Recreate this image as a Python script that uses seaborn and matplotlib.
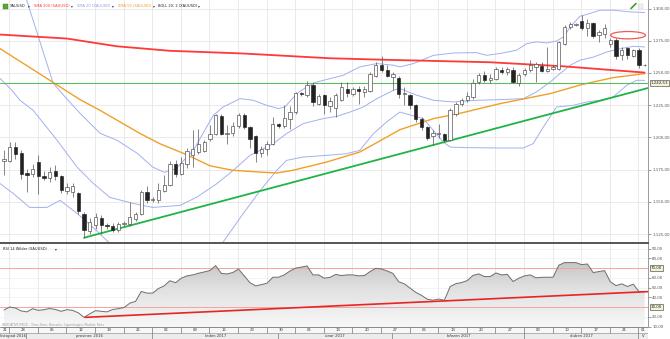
import numpy as np
import pandas as pd
import matplotlib
matplotlib.use("Agg")
import matplotlib.pyplot as plt
import seaborn as sns
from matplotlib.patches import Ellipse, Rectangle
from matplotlib.lines import Line2D
from matplotlib.colors import LinearSegmentedColormap
from matplotlib.transforms import blended_transform_factory
from matplotlib.ticker import FuncFormatter

sns.set_style("white")
plt.rcParams['font.family'] = ['DejaVu Sans']

# ---------------- data ----------------
dates = pd.bdate_range("2016-11-24", "2017-05-01")

opens = [1182.0, 1181.8, 1192.5, 1188.0, 1172.4, 1171.9, 1180.9, 1169.8, 1168.8, 1173.9,
         1169.8, 1158.4, 1157.6, 1156.8, 1140.3, 1127.2, 1132.4, 1137.6, 1132.4, 1131.0,
         1128.4, 1132.8, 1132.5, 1137.0, 1140.8, 1157.6, 1151.5, 1151.2, 1158.4, 1162.8,
         1179.7, 1171.4, 1179.7, 1186.1, 1188.7, 1189.4, 1199.1, 1203.0, 1216.4, 1203.0,
         1203.4, 1208.6, 1217.7, 1208.1, 1200.9, 1187.9, 1191.3, 1194.6, 1210.2, 1208.6,
         1214.6, 1219.7, 1234.5, 1232.7, 1240.5, 1226.2, 1232.7, 1224.1, 1223.1, 1229.3,
         1237.9, 1234.0, 1237.3, 1235.3, 1236.0, 1247.4, 1256.0, 1252.1, 1246.9, 1246.4,
         1233.5, 1232.7, 1224.9, 1214.0, 1208.0, 1200.9, 1202.4, 1202.4, 1198.3, 1218.0,
         1225.7, 1228.8, 1231.4, 1243.0, 1248.2, 1244.5, 1245.7, 1252.6, 1250.8, 1252.6,
         1242.2, 1249.0, 1252.6, 1254.7, 1255.2, 1251.6, 1253.4, 1253.4, 1272.8, 1285.7,
         1287.2, 1290.4, 1284.5, 1288.8, 1279.3, 1280.6, 1272.3, 1275.9, 1263.7, 1269.0,
         1263.0, 1268.2, 1256.0]
highs = [1190.6, 1196.4, 1196.4, 1190.3, 1175.7, 1179.6, 1186.1, 1174.1, 1177.0, 1178.4,
         1170.6, 1164.6, 1164.6, 1157.5, 1141.8, 1137.8, 1141.3, 1139.6, 1134.0, 1133.5,
         1134.5, 1135.0, 1149.9, 1142.5, 1159.5, 1162.5, 1153.5, 1165.0, 1170.5, 1181.5,
         1182.2, 1184.5, 1191.5, 1205.5, 1206.8, 1198.0, 1210.0, 1218.5, 1218.0, 1209.3,
         1212.0, 1218.8, 1218.8, 1209.0, 1202.0, 1193.5, 1197.5, 1216.0, 1211.5, 1224.9,
         1224.0, 1235.5, 1235.5, 1243.6, 1243.0, 1233.5, 1234.0, 1231.4, 1234.5, 1243.0,
         1243.0, 1239.5, 1240.0, 1240.0, 1250.5, 1258.5, 1263.0, 1256.5, 1251.0, 1247.5,
         1239.0, 1234.0, 1226.0, 1216.0, 1209.0, 1206.0, 1210.2, 1203.5, 1222.5, 1227.5,
         1230.5, 1235.0, 1245.0, 1250.0, 1251.5, 1249.0, 1255.0, 1255.0, 1255.0, 1255.0,
         1250.0, 1254.0, 1260.4, 1258.5, 1258.5, 1270.2, 1256.0, 1275.0, 1287.5, 1289.5,
         1289.0, 1294.8, 1291.5, 1289.5, 1283.5, 1287.8, 1277.5, 1277.0, 1270.5, 1270.0,
         1268.5, 1269.5, 1256.8]
lows = [1170.8, 1180.9, 1183.5, 1168.0, 1158.0, 1169.1, 1156.4, 1166.7, 1165.1, 1167.0,
        1157.1, 1156.1, 1154.0, 1140.6, 1122.2, 1125.3, 1128.6, 1125.3, 1129.0, 1126.5,
        1127.0, 1131.5, 1131.5, 1135.5, 1140.0, 1149.5, 1150.0, 1149.5, 1157.5, 1162.0,
        1169.3, 1170.6, 1176.0, 1177.0, 1187.0, 1188.5, 1197.5, 1202.0, 1202.0, 1195.0,
        1201.0, 1207.5, 1206.5, 1191.5, 1180.9, 1184.5, 1186.0, 1194.0, 1207.0, 1207.5,
        1206.8, 1218.0, 1232.5, 1231.0, 1224.6, 1225.0, 1218.5, 1219.7, 1215.8, 1228.0,
        1231.0, 1232.5, 1226.2, 1231.5, 1235.0, 1246.5, 1251.0, 1246.5, 1236.6, 1230.9,
        1225.0, 1222.4, 1212.0, 1206.0, 1198.3, 1193.9, 1199.5, 1196.5, 1197.5, 1217.0,
        1224.0, 1227.5, 1229.5, 1241.5, 1243.0, 1242.5, 1244.5, 1249.5, 1248.5, 1242.0,
        1239.7, 1247.5, 1251.0, 1243.0, 1250.5, 1250.5, 1252.0, 1252.5, 1271.5, 1284.0,
        1286.5, 1283.5, 1278.5, 1277.5, 1274.1, 1277.5, 1270.0, 1261.2, 1259.9, 1260.5,
        1262.0, 1254.2, 1255.5]
closes = [1183.5, 1192.5, 1187.4, 1172.0, 1170.6, 1175.8, 1169.8, 1168.8, 1173.1, 1169.8,
          1158.9, 1161.5, 1162.0, 1142.9, 1127.9, 1134.2, 1138.4, 1132.4, 1131.1, 1127.9,
          1133.0, 1133.3, 1138.2, 1140.8, 1157.6, 1151.2, 1152.0, 1159.0, 1162.8, 1179.7,
          1171.4, 1180.1, 1189.4, 1191.3, 1195.2, 1196.4, 1203.0, 1217.2, 1203.0, 1203.8,
          1208.6, 1217.7, 1208.1, 1199.1, 1187.9, 1191.3, 1195.2, 1210.2, 1208.6, 1215.4,
          1219.7, 1234.5, 1233.5, 1240.5, 1227.5, 1231.9, 1224.9, 1228.0, 1232.7, 1239.1,
          1234.5, 1237.3, 1235.8, 1237.9, 1249.0, 1256.0, 1252.1, 1247.4, 1249.5, 1233.5,
          1234.5, 1225.5, 1214.6, 1208.0, 1199.8, 1203.4, 1203.2, 1197.7, 1221.0, 1226.2,
          1228.8, 1232.5, 1242.2, 1248.2, 1244.3, 1246.0, 1253.4, 1250.8, 1253.4, 1243.0,
          1248.2, 1252.6, 1256.0, 1256.8, 1251.6, 1253.4, 1254.7, 1274.1, 1285.7, 1287.8,
          1287.8, 1284.5, 1288.8, 1278.5, 1281.8, 1284.5, 1275.4, 1263.0, 1268.2, 1263.7,
          1267.6, 1256.0, 1256.0]

rsi_values = [27, 30, 29, 26, 25, 28.3, 26.6, 27.3, 28.5, 27.5,
              25.6, 27.3, 26.6, 24, 19.4, 23, 26.3, 25.6, 25, 27.5,
              28.3, 29.5, 34, 35.8, 46, 44.3, 44.3, 49, 51.7, 57,
              55, 59.6, 62, 63, 64.7, 66, 67.5, 72.5, 64.5, 64,
              65.4, 69, 62, 55, 51.7, 53, 54.5, 60.6, 60.6, 63,
              67, 70, 71, 72.2, 63, 63, 59.6, 60.5, 63.5, 62.3,
              63, 63, 62, 62.3, 66.4, 69.8, 69, 67, 64.5, 56,
              53.8, 49.4, 45, 42, 38, 37, 38.2, 37, 51, 54,
              55.1, 57.2, 62.5, 64, 61.3, 61.3, 65, 63, 63.5, 56.2,
              59.6, 62, 63, 60, 60.5, 60.6, 60.6, 73, 75.6, 75.6,
              75.6, 73.5, 74.2, 65.4, 66.4, 67.4, 56, 52, 53.8, 51.1,
              53.5, 46, 46]

# indicator lines (candle index, price)
sma200_x = [-0.7, 11, 19.7, 29, 41.8, 57, 67, 85, 97.7, 112]
sma200_y = [1279.8, 1276.7, 1270.7, 1267.2, 1265.1, 1261.4, 1260.2, 1258.3, 1255.2, 1250.3]

sma50_x = [-0.7, 6, 13.3, 16.8, 23.8, 27.3, 32, 36, 40, 44.8, 47.7, 50.5, 56.4, 62.2,
           65.2, 69.2, 75.1, 80, 86.7, 95.5, 101, 106.5, 112]
sma50_y = [1268.9, 1250.0, 1229.3, 1221.0, 1203.0, 1195.0, 1186.5, 1178.0, 1174.5, 1173.1,
           1172.4, 1174.5, 1180.9, 1188.7, 1196.0, 1206.0, 1214.6, 1219.0, 1226.2, 1234.0,
           1241.0, 1246.4, 1249.5]

sma20_x = [-0.7, 1.4, 2.8, 5.1, 9.3, 12.8, 15.6, 18.5, 22.6, 26, 30.8, 33.7, 37.2, 40.1,
           43, 44.8, 47.1, 49.4, 52.3, 55.8, 58.2, 60.5, 62.8, 65.2, 68.1, 69.2, 72.2,
           75.1, 78.6, 82.6, 86.7, 90.8, 93.1, 95.5, 97.2, 99, 100.7, 103.1, 105.4,
           107.8, 110.1, 112]
sma20_y = [1245.8, 1236.5, 1228.8, 1221.0, 1197.7, 1176.8, 1164.4, 1153.5, 1148.8, 1145.7,
           1147.3, 1153.7, 1164.1, 1174.5, 1186.1, 1190.0, 1195.2, 1203.0, 1210.7, 1214.6,
           1216.4, 1219.7, 1223.6, 1230.1, 1236.6, 1237.9, 1232.7, 1228.8, 1227.5, 1228.8,
           1229.3, 1230.1, 1235.3, 1243.0, 1249.5, 1256.0, 1259.9, 1262.4, 1266.3, 1268.9,
           1270.7, 1270.2]

boll_up_x = [-0.7, 4, 8.6, 11.2, 13.3, 16.8, 19.8, 23.3, 26, 28, 30, 33.1, 36.6, 38.3,
             41.3, 43.6, 45.9, 48, 49.1, 51.2, 52.9, 54.7, 59.3, 62.2, 65.2, 68.1, 69.2,
             71.6, 75.1, 78.6, 82.6, 84.4, 86.7, 89.6, 91.4, 93.1, 94.9, 96.6, 97.8, 99,
             100.7, 102.4, 104.2, 106.5, 109.4, 112]
boll_up_y = [1370.0, 1306.0, 1242.0, 1228.8, 1218.7, 1203.2, 1197.7, 1187.7, 1177.0, 1173.0,
             1175.5, 1190.0, 1217.2, 1223.6, 1230.1, 1228.8, 1224.9, 1222.4, 1223.6, 1234.0,
             1239.1, 1243.0, 1248.2, 1254.7, 1257.3, 1256.0, 1254.7, 1257.3, 1263.7, 1265.5,
             1265.8, 1263.7, 1265.1, 1267.6, 1272.8, 1274.1, 1273.3, 1274.8, 1277.9, 1285.7,
             1294.0, 1296.1, 1298.7, 1298.7, 1297.4, 1296.9]

boll_lo_x = [-0.7, 1.6, 4.5, 7.5, 9.8, 12.8, 15.6, 18.5, 22, 28, 33, 36, 38.3, 41.8, 44.8,
             47.7, 49.4, 52.3, 56.4, 59.9, 62.2, 64.6, 66.9, 69.2, 73.3, 76.8, 78, 80.9,
             86.7, 90.8, 92.5, 94.3, 96.6, 99.5, 101.9, 104.2, 106.5, 108.9, 110.6, 112]
boll_lo_y = [1164.2, 1156.6, 1145.7, 1145.7, 1151.2, 1140.9, 1130.1, 1117.8, 1108.0, 1113.0,
             1115.0, 1110.0, 1118.8, 1140.8, 1158.9, 1174.5, 1182.2, 1184.8, 1186.1, 1187.4,
             1190.0, 1203.0, 1212.0, 1219.7, 1214.6, 1196.4, 1192.5, 1192.1, 1191.8, 1191.8,
             1195.2, 1208.1, 1223.6, 1224.9, 1227.5, 1228.8, 1231.4, 1240.5, 1244.3, 1244.3]

support_level = 1242.53
trend_x = [14, 112.9]
trend_y = [1122.2, 1238.7]
rsi_trend_x = [14.2, 112.9]
rsi_trend_y = [19.4, 45.9]

week_labels = ['21', '28', '05', '12', '19', '26', '02', '09', '16', '23', '30', '06',
               '13', '20', '27', '06', '13', '20', '27', '03', '10', '17', '24', '01']
month_labels = ['listopad 2016', 'prosinec 2016', 'leden 2017', 'únor 2017',
                'březen 2017', 'duben 2017', 'V']

# ---------------- layout ----------------
W, H = 670, 339
fig = plt.figure(figsize=(W / 100, H / 100), dpi=100)
fig.patch.set_facecolor('white')

XMIN, XMAX = -0.7, 112.59
PMIN, PMAX = 1118.5, 1306.6
RMIN, RMAX = 9.5, 94.7
RIGHT = 648 / W
SEP = 1.08

ax = fig.add_axes([0, 1 - 242.5 / H, RIGHT, 242.5 / H])
axr = fig.add_axes([0, 1 - 327 / H, RIGHT, (327 - 244) / H])
axt = fig.add_axes([0, 0, RIGHT, 12 / H])

n = len(closes)
xs = np.arange(n)
mondays = [i for i, d in enumerate(dates) if d.weekday() == 0]
week_idx = [mondays[0] - 5] + mondays
month_start = [i for i in range(n) if i == 0 or dates[i].month != dates[i - 1].month]
month_start[0] = -30
week_sep = [w - SEP for w in week_idx]
month_sep = [m - SEP for m in month_start]

grid_c = '#e6e6e6'
for a in (ax, axr):
    a.set_xlim(XMIN, XMAX)
    a.set_facecolor('white')
    for s in week_sep:
        if XMIN < s < XMAX:
            a.axvline(s, color=grid_c, lw=0.6, zorder=0)
    for sp in ('left', 'top'):
        a.spines[sp].set_visible(False)
    a.spines['right'].set_color('#8a8a8a')
    a.spines['right'].set_linewidth(0.6)
    a.yaxis.tick_right()
    a.tick_params(axis='y', length=2, width=0.4, colors='#555', labelsize=2.9, pad=1)
    a.tick_params(axis='x', bottom=False, labelbottom=False)
    a.set_xlabel('')
    a.set_ylabel('')

# ---------------- main price panel ----------------
ax.set_ylim(PMIN, PMAX)
pticks = [1125, 1150, 1175, 1200, 1225, 1250, 1275, 1300]
ax.set_yticks(pticks)
for p in pticks:
    ax.axhline(p, color=grid_c, lw=0.6, zorder=0)


def eu(v, pos=None):
    s = f"{v:,.2f}"
    return s.replace(',', 'X').replace('.', ',').replace('X', '.')


ax.yaxis.set_major_formatter(FuncFormatter(eu))
ax.spines['bottom'].set_color('#555')
ax.spines['bottom'].set_linewidth(1.4)

band_c = '#a3b0ee'
sns.lineplot(x=boll_up_x, y=boll_up_y, ax=ax, color=band_c, lw=0.7, sort=False, estimator=None, legend=False, zorder=2)
sns.lineplot(x=boll_lo_x, y=boll_lo_y, ax=ax, color=band_c, lw=0.7, sort=False, estimator=None, legend=False, zorder=2)
sns.lineplot(x=sma20_x, y=sma20_y, ax=ax, color=band_c, lw=0.7, sort=False, estimator=None, legend=False, zorder=2)
sns.lineplot(x=sma50_x, y=sma50_y, ax=ax, color='#f0a028', lw=1.0, sort=False, estimator=None, legend=False, zorder=2)
sns.lineplot(x=sma200_x, y=sma200_y, ax=ax, color='#ff3838', lw=1.3, sort=False, estimator=None, legend=False, zorder=2)
ax.axhline(support_level, color='#5cbd5c', lw=0.8, zorder=2)
sns.lineplot(x=trend_x, y=trend_y, ax=ax, color='#1fb445', lw=1.3, sort=False, estimator=None, legend=False, zorder=2)

o = np.array(opens); c = np.array(closes)
up = c >= o
body_lo = np.minimum(o, c)
body_h = np.maximum(np.abs(c - o), 0.45)
ax.vlines(xs, lows, highs, color='#555555', lw=0.5, zorder=3)
ax.bar(xs[up], body_h[up], bottom=body_lo[up], width=0.58, color='white',
       edgecolor='#444444', linewidth=0.45, zorder=4)
ax.bar(xs[~up], body_h[~up], bottom=body_lo[~up], width=0.58, color='#222222',
       edgecolor='#222222', linewidth=0.45, zorder=4)

ax.add_patch(Ellipse((109.1, 1279.3), width=6.1, height=5.7, fill=False,
                     ec='#f05a5a', lw=0.9, zorder=5))

tr = blended_transform_factory(ax.transAxes, ax.transData)
ax.text(1.004, support_level, eu(support_level), transform=tr, fontsize=2.9, va='center',
        ha='left', color='#222', zorder=6,
        bbox=dict(boxstyle='square,pad=0.25', fc='#f5f1d6', ec='#333', lw=0.4))

# ---------------- RSI panel ----------------
axr.set_ylim(RMIN, RMAX)
rt = [10, 20, 40, 50, 60, 80, 90]
axr.set_yticks(rt)
axr.yaxis.set_major_formatter(FuncFormatter(lambda v, p: f"{v:.2f}".replace('.', ',')))
for v in range(10, 100, 10):
    axr.axhline(v, color='#efefef', lw=0.5, zorder=0)
axr.spines['bottom'].set_color('#aaaaaa')
axr.spines['bottom'].set_linewidth(0.5)

poly = axr.fill_between(xs, rsi_values, RMIN, facecolor='none', edgecolor='none')
grad = np.linspace(0, 1, 256).reshape(-1, 1)
cmap = LinearSegmentedColormap.from_list('g', ['#f8f8f8', '#e2e2e2', '#bdbdbd'])
im = axr.imshow(grad, extent=[XMIN, XMAX, RMIN, 85], origin='lower', aspect='auto',
                cmap=cmap, zorder=1)
im.set_clip_path(poly.get_paths()[0], transform=axr.transData)
axr.set_xlim(XMIN, XMAX)
axr.set_ylim(RMIN, RMAX)

axr.axhline(70, color='#f4a3a3', lw=0.7, zorder=2)
axr.axhline(30, color='#f4a3a3', lw=0.7, zorder=2)
sns.lineplot(x=xs, y=rsi_values, ax=axr, color='#6e6e6e', lw=0.7, sort=False, estimator=None, legend=False, zorder=3)
sns.lineplot(x=rsi_trend_x, y=rsi_trend_y, ax=axr, color='#e82424', lw=1.2, sort=False, estimator=None, legend=False, zorder=4)
axr.set_xlabel(''); axr.set_ylabel('')
trr = blended_transform_factory(axr.transAxes, axr.transData)
for v in (70, 30):
    axr.text(1.004, v, f"{v:.2f}".replace('.', ','), transform=trr, fontsize=2.9, va='center',
             ha='left', color='#222',
             bbox=dict(boxstyle='square,pad=0.25', fc='#f5f1d6', ec='#333', lw=0.4))

# ---------------- time axis ----------------
axt.set_xlim(XMIN, XMAX)
axt.set_ylim(0, 2)
axt.axis('off')
axt.add_patch(Rectangle((XMIN, 1), XMAX - XMIN, 1, fc='#f7f7f7', ec='none', zorder=0))
axt.add_patch(Rectangle((XMIN, 0), XMAX - XMIN, 1, fc='#ececec', ec='none', zorder=0))
axt.axhline(2, color='#777', lw=0.6)
axt.axhline(1, color='#999', lw=0.5)
for s in week_sep:
    if XMIN < s < XMAX:
        axt.vlines(s, 1, 2, color='#777', lw=0.5)
for s in month_sep:
    if XMIN < s < XMAX:
        axt.vlines(s, 0, 1, color='#777', lw=0.5)
for i, lab in enumerate(week_labels):
    a0 = max(week_sep[i], XMIN)
    a1 = min(week_sep[i + 1], XMAX) if i + 1 < len(week_sep) else XMAX
    axt.text((a0 + a1) / 2, 1.5, lab, fontsize=2.7, ha='center', va='center', color='#333')
for i, lab in enumerate(month_labels):
    a0 = max(month_sep[i], XMIN)
    a1 = min(month_sep[i + 1], XMAX) if i + 1 < len(month_sep) else XMAX
    axt.text((a0 + a1) / 2, 0.5, lab, fontsize=2.7, ha='center', va='center', color='#333')

# ---------------- header texts ----------------
def fx(px):
    return px / W


def fy(py):
    return 1 - py / H


fig.add_artist(Rectangle((fx(3), fy(8.5)), 4.5 / W, 5 / H, transform=fig.transFigure,
                         fc='#5aa832', ec='#3d7a20', lw=0.3))
legend_items = [(10, 'XAUUSD', '#222222', 28), (34, 'SMA 200 (XAUUSD)', '#ff3838', 71),
                (77, 'SMA 20 (XAUUSD)', '#8c9ded', 112), (118, 'SMA 50 (XAUUSD)', '#f0a028', 153),
                (158, 'BOLL 20; 2 (XAUUSD)', '#222222', 198)]
for x0, txt, col, xa in legend_items:
    fig.text(fx(x0), fy(6), txt, fontsize=2.6, color=col, ha='left', va='center')
    fig.text(fx(xa), fy(6), '▾', fontsize=2.6, color='#333', ha='left', va='center')

fig.text(fx(3), fy(249.5), 'RSI 14 Wilder (XAUUSD)', fontsize=2.6, color='#222', ha='left', va='center')
fig.text(fx(55), fy(249.5), '▾', fontsize=2.6, color='#333', ha='left', va='center')
fig.text(fx(1.5), fy(325), 'INDICATIVE PRICE - Time Zone: Brussels, Copenhagen, Madrid, Paris',
         fontsize=2.2, color='#9a9a9a', ha='left', va='center')

# small pencil icon
fig.add_artist(Line2D([fx(631), fx(636)], [fy(8.5), fy(3.5)], transform=fig.transFigure,
                      color='#3d9a35', lw=1.2))
fig.add_artist(Rectangle((fx(639), fy(8.5)), 4 / W, 4 / H, transform=fig.transFigure,
                         fc='#f0f0f0', ec='#cccccc', lw=0.3))

fig.savefig('out.png', dpi=100, facecolor='white')
